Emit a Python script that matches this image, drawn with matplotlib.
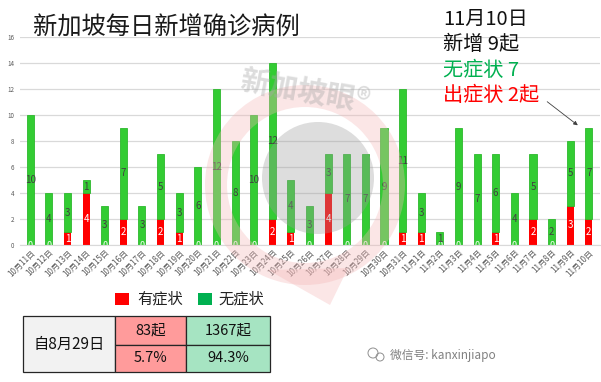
import matplotlib
matplotlib.use("Agg")
import matplotlib.pyplot as plt
from matplotlib.patches import Rectangle, Circle, Wedge, Polygon
import numpy as np

plt.rcParams['font.family'] = ['Noto Sans CJK SC', 'DejaVu Sans']

dates = ["10月11日","10月12日","10月13日","10月14日","10月15日","10月16日","10月17日",
         "10月18日","10月19日","10月20日","10月21日","10月22日","10月23日","10月24日",
         "10月25日","10月26日","10月27日","10月28日","10月29日","10月30日","10月31日",
         "11月1日","11月2日","11月3日","11月4日","11月5日","11月6日","11月7日",
         "11月8日","11月9日","11月10日"]
symptomatic = [0,0,1,4,0,2,0,2,1,0,0,0,0,2,1,0,4,0,0,0,1,1,0,0,0,1,0,2,0,3,2]
asymptomatic = [10,4,3,1,3,7,3,5,3,6,12,8,10,12,4,3,3,7,7,9,11,3,1,9,7,6,4,5,2,5,7]
yticks = [0,2,4,6,8,10,12,14,16]

W, H = 601, 382
fig = plt.figure(figsize=(W/100, H/100), dpi=100)

def fx(px): return px / W
def fy(py): return 1 - py / H

ax = fig.add_axes([fx(20), fy(245), fx(600) - fx(20), fy(37) - fy(245)])
x = np.arange(len(dates))
red = '#FF0000'
green = '#33CC33'
ax.bar(x, symptomatic, width=0.38, color=red, zorder=3)
ax.bar(x, asymptomatic, bottom=symptomatic, width=0.38, color=green,
       edgecolor='#2DB82D', linewidth=0.6, zorder=3)

for i in range(len(dates)):
    r, g = symptomatic[i], asymptomatic[i]
    if r > 0:
        ax.text(x[i], r / 2, str(r), ha='center', va='center', color='white',
                fontsize=7, zorder=5)
    else:
        t = ax.text(x[i], 0.0, str(r), ha='center', va='center', color='white',
                    fontsize=6.5, zorder=5)
        t.set_clip_on(True)
    ax.text(x[i], r + g / 2, str(g), ha='center', va='center', color='#404040',
            fontsize=7, zorder=5)

ax.set_xlim(-0.55, 30.6)
ax.set_ylim(0, 16)
ax.set_yticks(yticks)
ax.yaxis.grid(True, color='#D9D9D9', linewidth=0.9, zorder=0)
ax.set_axisbelow(True)
for s in ['top', 'right', 'left']:
    ax.spines[s].set_visible(False)
ax.spines['bottom'].set_color('#D9D9D9')
ax.spines['bottom'].set_zorder(6)
ax.tick_params(axis='y', length=0, labelsize=4.5, labelcolor='#595959', pad=4)
ax.tick_params(axis='x', length=0, labelsize=5.8, labelcolor='#595959', pad=2)
ax.set_xticks(x)
ax.set_xticklabels(dates, rotation=45, ha='right', rotation_mode='anchor')
ax.patch.set_alpha(0)

# watermark (logo approximation)
wm = fig.add_axes([0, 0, 1, 1], zorder=10)
wm.set_xlim(0, W); wm.set_ylim(H, 0); wm.axis('off')
wm.add_patch(Wedge((305, 185), 100, 0, 360, width=22, color='#F4B8B8', alpha=0.35, lw=0))
wm.add_patch(Polygon([[268, 270], [348, 268], [330, 305]], closed=True,
                     color='#F4B8B8', alpha=0.35, lw=0))
wm.add_patch(Circle((318, 178), 56, color='#9E9E9E', alpha=0.35, lw=0))
wm.text(305, 92, '新加坡眼®', fontsize=21, color='#A8A8A8', alpha=0.4,
        ha='center', va='center', rotation=-10, fontweight='bold')

# title
fig.text(fx(33), fy(28), '新加坡每日新增确诊病例', fontsize=17.5, color='#1a1a1a',
         ha='left', va='center')

# annotation top right
ann = [('11月10日', '#111111'), ('新增 9起', '#111111'),
       ('无症状 7', '#00B050'), ('出症状 2起', '#FF0000')]
for k, (t, c) in enumerate(ann):
    fig.text(fx(443), fy(19 + 25.5 * k), t, fontsize=14.5, color=c,
             ha='left', va='center')
wm.annotate('', xy=(580, 127), xytext=(545, 100),
            arrowprops=dict(arrowstyle='-|>', color='#404040', lw=0.6,
                            mutation_scale=6))

# legend
wm.add_patch(Rectangle((115, 293), 14, 12, color=red, lw=0))
wm.text(137, 299, '有症状', fontsize=11, color='#222222', va='center', ha='left')
wm.add_patch(Rectangle((198, 293), 14, 12, color='#00B050', lw=0))
wm.text(218, 299, '无症状', fontsize=11, color='#222222', va='center', ha='left')

# table
cells = [((23, 316, 92, 56), '#F2F2F2'),
         ((115, 316, 71, 29), '#FF9B9B'), ((186, 316, 84, 29), '#A6E4C2'),
         ((115, 345, 71, 27), '#FF9B9B'), ((186, 345, 84, 27), '#A6E4C2')]
for (cx, cy, cw, ch), col in cells:
    wm.add_patch(Rectangle((cx, cy), cw, ch, facecolor=col, edgecolor='#262626', lw=0.9))
wm.text(69, 344, '自8月29日', fontsize=11, ha='center', va='center', color='#111111')
wm.text(150.5, 330.5, '83起', fontsize=10.5, ha='center', va='center', color='#111111')
wm.text(228, 330.5, '1367起', fontsize=10.5, ha='center', va='center', color='#111111')
wm.text(150.5, 358.5, '5.7%', fontsize=10.5, ha='center', va='center', color='#111111')
wm.text(228, 358.5, '94.3%', fontsize=10.5, ha='center', va='center', color='#111111')

# wechat footer
wm.text(390, 355, '微信号: kanxinjiapo', fontsize=8.5, ha='left', va='center', color='#808080')
wm.add_patch(Circle((373, 353), 5, fill=False, edgecolor='#909090', lw=0.7))
wm.add_patch(Circle((380, 357), 4, fill=False, edgecolor='#909090', lw=0.7))

fig.savefig('out.png', dpi=100)
